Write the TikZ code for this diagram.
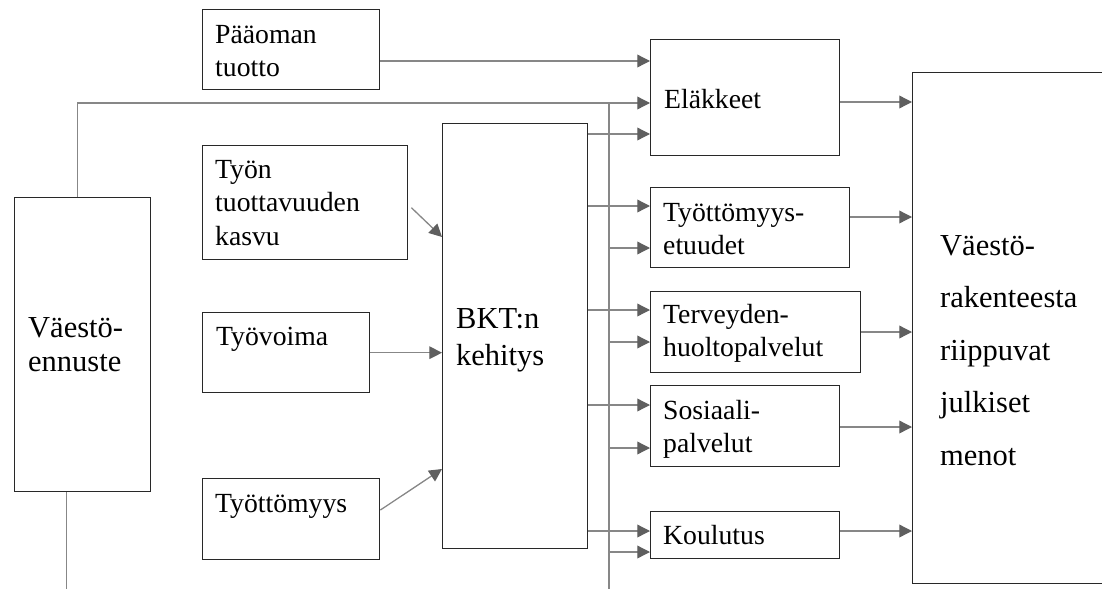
\documentclass[tikz,border=0pt]{standalone}
\usepackage{fontspec}
\setmainfont{Liberation Serif}
\usetikzlibrary{arrows.meta}

\definecolor{linegray}{RGB}{135,135,135}
\definecolor{tipgray}{RGB}{95,95,95}
\definecolor{boxline}{RGB}{40,40,40}

\begin{document}
\begin{tikzpicture}[x=1pt,y=-1pt,
    box/.style={draw=boxline,line width=1.4pt,anchor=north west,inner sep=0pt},
    txt/.style={anchor=base west,inner sep=0pt,text width=180pt,align=left,
      font=\fontsize{27.7}{33.5}\selectfont},
    big/.style={txt,font=\fontsize{30.5}{#1}\selectfont},
    conn/.style={draw=linegray,line width=1.3pt},
    arr/.style={conn,-{Triangle[length=12.7pt,width=12.7pt,color=tipgray]}}]
  \useasboundingbox (0,0) rectangle (1102,589);
  \clip (0,0) rectangle (1102,589);

  % input boxes on the left
  \node[box,minimum width=136pt,minimum height=294pt] (vaesto) at (13.7,197) {};
  \node[box,minimum width=177.5pt,minimum height=80pt] (paaoma) at (201.5,9) {};
  \node[box,minimum width=205.5pt,minimum height=114pt] (tuottavuus) at (201.5,145) {};
  \node[box,minimum width=167.5pt,minimum height=80pt] (tyovoima) at (201.5,312) {};
  \node[box,minimum width=177.5pt,minimum height=81pt] (tyottomyys) at (201.5,478) {};
  \node[box,minimum width=145pt,minimum height=425pt] (bkt) at (442,123) {};

  % expenditure boxes
  \node[box,minimum width=189pt,minimum height=116pt] (elakkeet) at (650,39) {};
  \node[box,minimum width=199pt,minimum height=80pt] (etuudet) at (650,187) {};
  \node[box,minimum width=210pt,minimum height=81pt] (terveys) at (650,291) {};
  \node[box,minimum width=189pt,minimum height=81pt] (sosiaali) at (650,385) {};
  \node[box,minimum width=189pt,minimum height=47pt] (koulutus) at (650,511) {};
  \node[box,minimum width=250pt,minimum height=511pt] (menot) at (912,72) {};

  % texts
  \node[big=34] (vaesto-t) at ([shift={(14.3,140)}]vaesto.north west) {Väestö-\\ennuste};
  \node[txt] (paaoma-t) at ([shift={(13.5,34)}]paaoma.north west) {Pääoman\\tuotto};
  \node[txt] (tuottavuus-t) at ([shift={(13.5,33)}]tuottavuus.north west) {Työn\\tuottavuuden\\kasvu};
  \node[txt] (tyovoima-t) at ([shift={(14.5,33)}]tyovoima.north west) {Työvoima};
  \node[txt] (tyottomyys-t) at ([shift={(13.5,34.5)}]tyottomyys.north west) {Työttömyys};
  \node[big=37] (bkt-t) at ([shift={(14,205)}]bkt.north west) {BKT:n\\kehitys};
  \node[txt] (elakkeet-t) at ([shift={(14,69)}]elakkeet.north west) {Eläkkeet};
  \node[txt] (etuudet-t) at ([shift={(13,34)}]etuudet.north west) {Työttömyys-\\etuudet};
  \node[txt] (terveys-t) at ([shift={(13,32)}]terveys.north west) {Terveyden-\\huoltopalvelut};
  \node[txt] (sosiaali-t) at ([shift={(13,34)}]sosiaali.north west) {Sosiaali-\\palvelut};
  \node[txt] (koulutus-t) at ([shift={(13,33)}]koulutus.north west) {Koulutus};
  \node[big=52.5] (menot-t) at ([shift={(28,183)}]menot.north west) {Väestö-\\rakenteesta\\riippuvat\\julkiset\\menot};

  % connectors
  \coordinate (bus-top) at (609,103);
  \coordinate (bus-bot) at (609,589);
  \coordinate (vaesto-end) at (66.7,589);
  \draw[conn] (bus-top) -- (bus-bot);
  \draw[arr] ([xshift=-5pt]vaesto.north) |- (bus-top) -- (elakkeet.west |- bus-top);
  \draw[conn] (vaesto-end |- vaesto.south) -- (vaesto-end);
  \draw[arr] (paaoma.east |- 0,61) -- (elakkeet.west |- 0,61);
  \draw[arr] ([shift={(3,5)}]tuottavuus.east) -- (bkt.west |- 0,237);
  \draw[arr] (tyovoima.east) -- (tyovoima.east -| bkt.west);
  \draw[arr] (tyottomyys.east |- 0,510) -- (bkt.west |- 0,469);
  \foreach \y/\b in {134/elakkeet,206/etuudet,310/terveys,405/sosiaali,531/koulutus}
    \draw[arr] (bkt.east |- 0,\y) -- (\b.west |- 0,\y);
  \foreach \y/\b in {248/etuudet,342/terveys,448/sosiaali,552/koulutus}
    \draw[arr] (bus-top |- 0,\y) -- (\b.west |- 0,\y);
  \foreach \y/\b in {102/elakkeet,217/etuudet,332/terveys,427/sosiaali,531/koulutus}
    \draw[arr] (\b.east |- 0,\y) -- (menot.west |- 0,\y);
\end{tikzpicture}
\end{document}
